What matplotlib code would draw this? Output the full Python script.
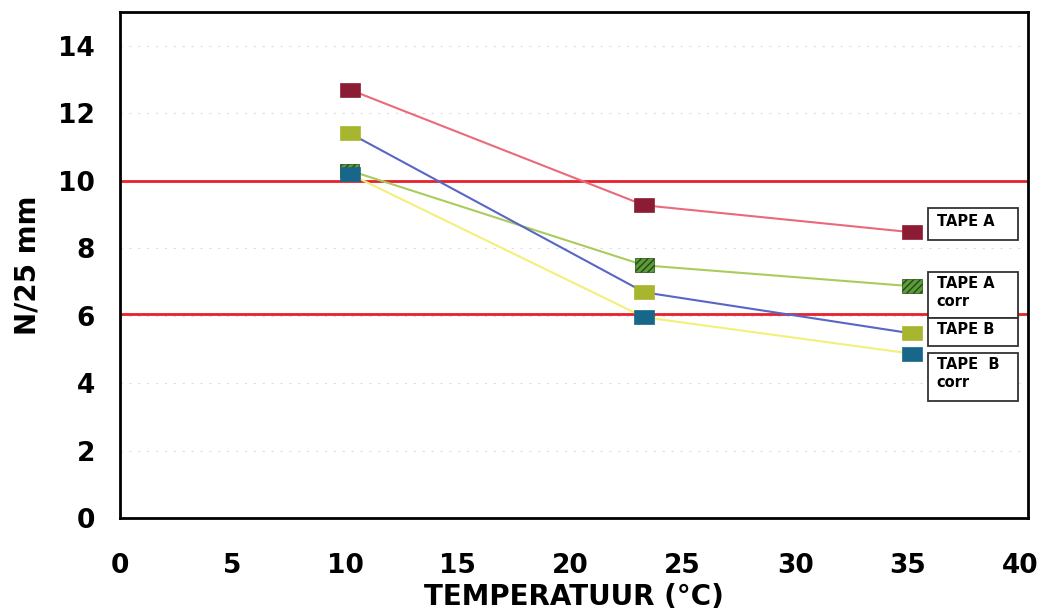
import matplotlib.pyplot as plt
from matplotlib.patches import Rectangle

# data
temps = [10.2, 23.3, 35.2]
tape_a = [12.7, 9.27, 8.47]
tape_a_corr = [10.3, 7.49, 6.87]
tape_b = [11.41, 6.69, 5.47]
tape_b_corr = [10.2, 5.95, 4.87]
limits = [10.0, 6.05]

names = ["TAPE A", "TAPE A\ncorr", "TAPE B", "TAPE  B\ncorr"]
values = [tape_a, tape_a_corr, tape_b, tape_b_corr]
line_colors = ["#e86a7c", "#a9cc5c", "#5866c4", "#f2f07a"]
marker_colors = ["#8c1c34", "#5f9a3a", "#a8b52e", "#17678a"]
marker_hatch = [None, "/////", None, None]
# label boxes (bottom, top) in data units, x from 35.9 to 39.9
box_y = [(8.23, 9.19), (5.92, 7.28), (5.11, 5.92), (3.48, 4.90)]

# flat rectangular marker like the excel squares
rect_marker = [(-1.4, -1), (1.4, -1), (1.4, 1), (-1.4, 1), (-1.4, -1)]

fig = plt.figure(figsize=(10.42, 6.14), dpi=100)
ax = fig.add_axes([120 / 1042, 96 / 614, 908 / 1042, 506 / 614])

for yv in range(2, 15, 2):
    ax.axhline(yv, color="#dddddd", lw=0.8, ls=(0, (2, 6)), zorder=0)

for lim in limits:
    ax.axhline(lim, color="#e8202c", lw=2.0, zorder=1)

plt.rcParams["hatch.color"] = "#1f4a14"
for vals, lc, mc, h in zip(values, line_colors, marker_colors, marker_hatch):
    ax.plot(temps, vals, color=lc, lw=1.5, zorder=2)
    if h:
        ax.scatter(temps, vals, marker=rect_marker, s=14 ** 2, facecolor=mc,
                   edgecolor="#1f4a14", hatch=h, lw=0.5, zorder=3)
    else:
        ax.plot(temps, vals, ls="none", marker=rect_marker, markersize=14,
                markerfacecolor=mc, markeredgecolor=mc, markeredgewidth=0.5,
                zorder=3)

for name, (y0, y1) in zip(names, box_y):
    ax.add_patch(Rectangle((35.9, y0), 4.0, y1 - y0, fc="white",
                           ec="#333333", lw=1.3, zorder=4))
    if "\n" in name:
        ax.text(36.3, y1 - 0.12, name, fontsize=10.5, fontweight="bold",
                va="top", ha="left", linespacing=1.25, zorder=5)
    else:
        ax.text(36.3, (y0 + y1) / 2 + 0.08, name, fontsize=10.5,
                fontweight="bold", va="center", ha="left", zorder=5)

ax.set_xlim(0.15, 40.35)
ax.set_ylim(0, 15)
ax.set_xticks(range(0, 41, 5))
ax.set_yticks(range(0, 15, 2))
ax.tick_params(axis="x", length=0, labelsize=19, pad=25)
ax.tick_params(axis="y", length=0, labelsize=19, pad=18)
for lbl in ax.get_xticklabels() + ax.get_yticklabels():
    lbl.set_fontweight("bold")
for sp in ax.spines.values():
    sp.set_linewidth(2)
ax.set_xlabel("TEMPERATUUR (°C)", fontsize=20, fontweight="bold", labelpad=3)
ax.set_ylabel("N/25 mm", fontsize=20, fontweight="bold", labelpad=12)

fig.savefig("out.png", dpi=100)
